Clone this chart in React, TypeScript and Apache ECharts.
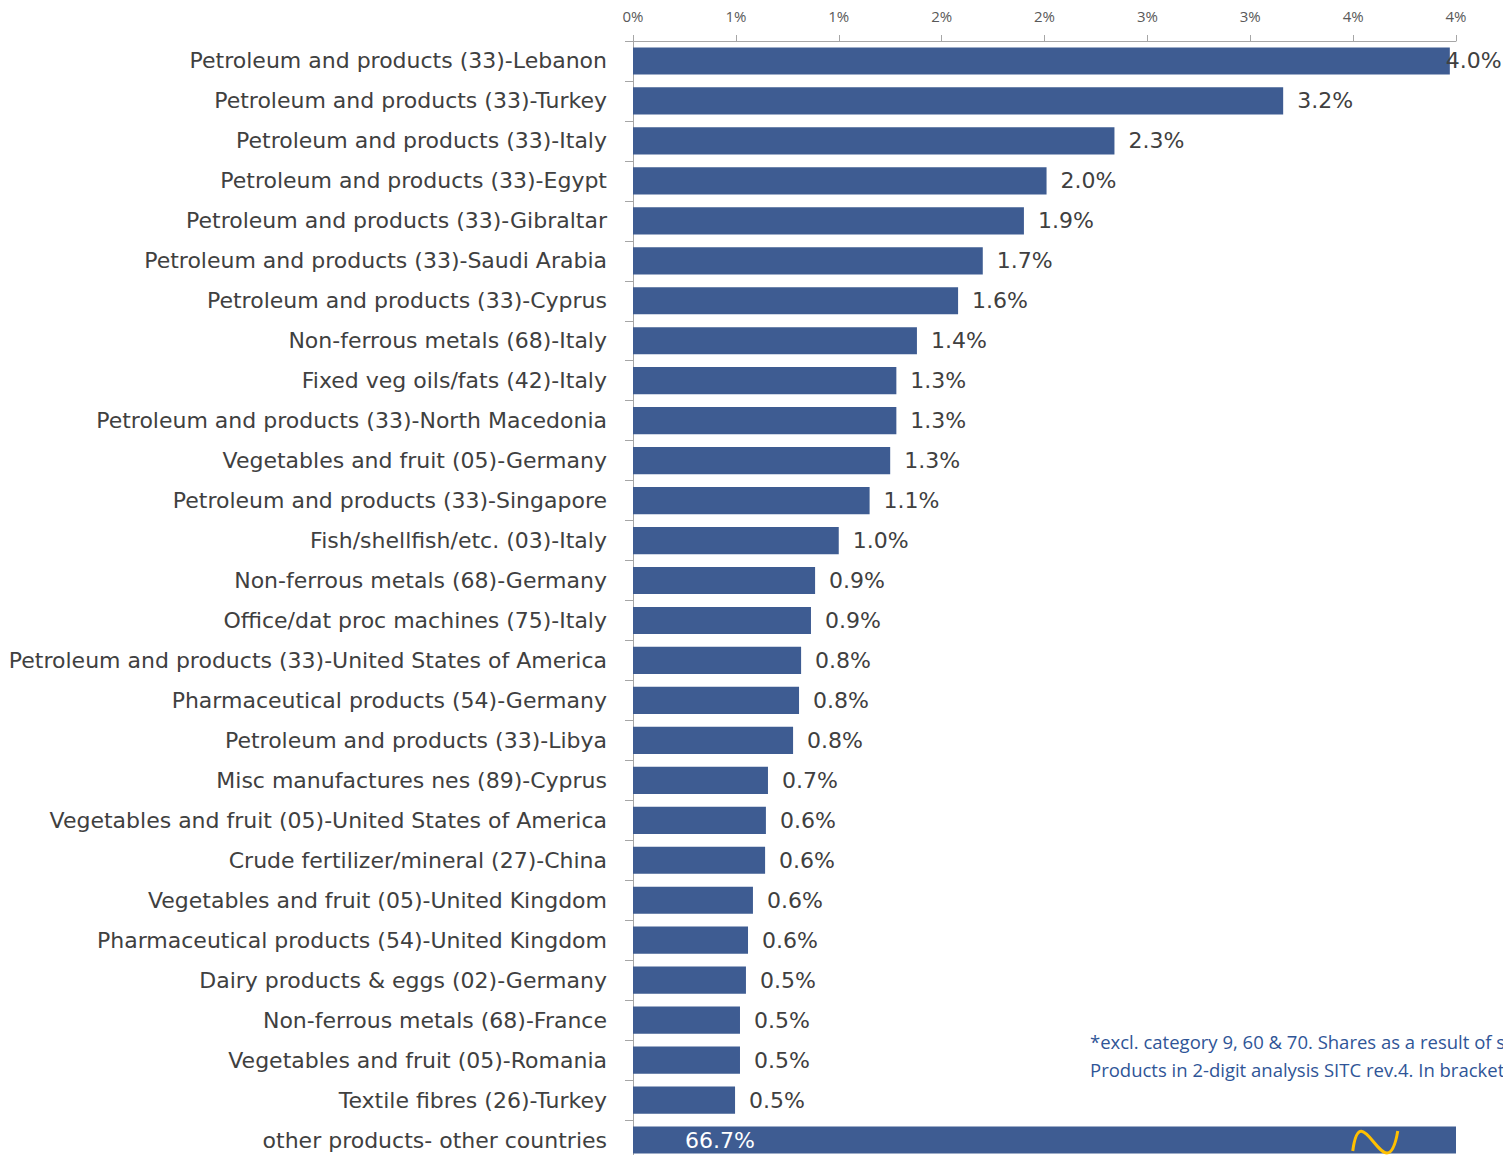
import React, { useEffect, useRef } from "react";
import * as echarts from "echarts";

const categories = [
  "Petroleum and products (33)-Lebanon",
  "Petroleum and products (33)-Turkey",
  "Petroleum and products (33)-Italy",
  "Petroleum and products (33)-Egypt",
  "Petroleum and products (33)-Gibraltar",
  "Petroleum and products (33)-Saudi Arabia",
  "Petroleum and products (33)-Cyprus",
  "Non-ferrous metals (68)-Italy",
  "Fixed veg oils/fats (42)-Italy",
  "Petroleum and products (33)-North Macedonia",
  "Vegetables and fruit (05)-Germany",
  "Petroleum and products (33)-Singapore",
  "Fish/shellfish/etc. (03)-Italy",
  "Non-ferrous metals (68)-Germany",
  "Office/dat proc machines (75)-Italy",
  "Petroleum and products (33)-United States of America",
  "Pharmaceutical products (54)-Germany",
  "Petroleum and products (33)-Libya",
  "Misc manufactures nes (89)-Cyprus",
  "Vegetables and fruit (05)-United States of America",
  "Crude fertilizer/mineral (27)-China",
  "Vegetables and fruit (05)-United Kingdom",
  "Pharmaceutical products (54)-United Kingdom",
  "Dairy products & eggs (02)-Germany",
  "Non-ferrous metals (68)-France",
  "Vegetables and fruit (05)-Romania",
  "Textile fibres (26)-Turkey",
  "other products- other countries",
];

const shares = [
  3.97, 3.16, 2.34, 2.01, 1.9, 1.7, 1.58, 1.38, 1.28, 1.28, 1.25, 1.15, 1.0,
  0.885, 0.865, 0.817, 0.807, 0.778, 0.656, 0.646, 0.642, 0.583, 0.559, 0.549,
  0.52, 0.52, 0.496, 66.7,
];

const axisMin = 0;
const axisMax = 4;
const axisInterval = 0.5;
const breakAt = 3.61;

const footnoteLines = [
  "*excl. category 9, 60 & 70. Shares as a result of s",
  "Products in 2-digit analysis SITC rev.4. In bracket",
];

const BAR = "#3E5C92";
const TXT = "#404040";
const FONT = "DejaVu Sans";

export default function App() {
  const ref = useRef<HTMLDivElement>(null);
  useEffect(() => {
    if (!ref.current) return;
    const chart = echarts.init(ref.current, null, { renderer: "svg" });
    const last = shares.length - 1;
    const data = shares.map((v, i) => {
      if (i === last) {
        return {
          value: v,
          label: {
            position: "insideLeft",
            distance: 52,
            color: "#FFFFFF",
          },
        };
      }
      if (i === 0) {
        return { value: v, label: { distance: -4 } };
      }
      return v;
    });
    chart.setOption({
      animation: false,
      backgroundColor: "#FFFFFF",
      grid: { left: 633, right: 47, top: 41, bottom: 0, containLabel: false },
      xAxis: {
        type: "value",
        position: "top",
        min: axisMin,
        max: axisMax,
        interval: axisInterval,
        axisLine: { show: true, lineStyle: { color: "#A6A6A6", width: 1 } },
        axisTick: { show: true, length: 6, lineStyle: { color: "#A6A6A6" } },
        splitLine: { show: false },
        axisLabel: {
          formatter: (v: number) => Math.round(v) + "%",
          color: "#595959",
          fontFamily: "Open Sans",
          fontSize: 15,
          margin: 18,
        },
      },
      yAxis: {
        type: "category",
        inverse: true,
        data: categories,
        axisLine: { show: true, lineStyle: { color: "#A6A6A6", width: 1 } },
        axisTick: { show: true, length: 8, lineStyle: { color: "#A6A6A6" } },
        axisLabel: {
          color: TXT,
          fontFamily: FONT,
          fontSize: 22,
          margin: 26,
        },
      },
      series: [
        {
          type: "bar",
          data,
          barCategoryGap: "32%",
          clip: true,
          itemStyle: { color: BAR },
          label: {
            show: true,
            position: "right",
            distance: 14,
            color: TXT,
            fontFamily: FONT,
            fontSize: 22,
            formatter: (p: any) => p.value.toFixed(1) + "%",
          },
        },
      ],
    });
    const c = chart.convertToPixel({ gridIndex: 0 }, [breakAt, categories[last]]) as number[];
    const cx = c[0];
    const cy = c[1];
    chart.setOption({
      graphic: [
        {
          type: "bezierCurve",
          shape: {
            x1: cx - 23,
            y1: cy + 11,
            cpx1: cx - 15,
            cpy1: cy - 50,
            cpx2: cx + 11,
            cpy2: cy + 56,
            x2: cx + 22,
            y2: cy - 9,
          },
          style: { stroke: "#FFC000", lineWidth: 3, fill: null },
          z: 100,
        },
        {
          type: "text",
          left: 1090,
          top: 1027,
          style: {
            text: footnoteLines.join("\n"),
            fill: "#2F5597",
            font: `18.5px "Open Sans"`,
            lineHeight: 28,
          },
          z: 100,
        },
      ],
    });
    return () => chart.dispose();
  }, []);
  return (
    <div
      ref={ref}
      style={{ position: "absolute", left: 0, top: 0, width: 1503, height: 1160 }}
    />
  );
}
